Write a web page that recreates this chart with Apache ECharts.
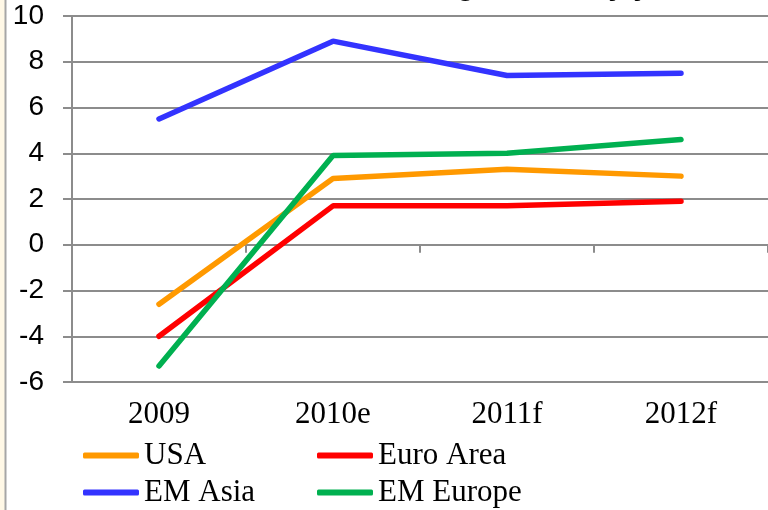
<!DOCTYPE html>
<html>
<head>
<meta charset="utf-8">
<script src="https://cdn.jsdelivr.net/npm/echarts@6/dist/echarts.min.js"></script>
<style>
  html, body { margin: 0; padding: 0; background: #fff; }
  #chart { width: 768px; height: 510px; }
</style>
</head>
<body>
<div id="chart"></div>
<script>
// data
const categories = ['2009', '2010e', '2011f', '2012f'];
const usa = [-2.6, 2.9, 3.3, 3.0];
const euroArea = [-4.0, 1.7, 1.7, 1.9];
const emAsia = [5.5, 8.9, 7.4, 7.5];
const emEurope = [-5.3, 3.9, 4.0, 4.6];
const yTicks = { min: -6, max: 10, step: 2 };

const gridGray = '#8c8c8c';
const serif = '"Liberation Serif", "Times New Roman", serif';
const sans = '"Liberation Sans", Arial, sans-serif';

const chart = echarts.init(document.getElementById('chart'));

function line(name, data, color) {
  return {
    name: name,
    type: 'line',
    data: data,
    symbol: 'none',
    lineStyle: { color: color, width: 5.5, cap: 'round' },
    itemStyle: { color: color }
  };
}

// one legend per entry so the 2x2 layout lines up like the original
function legendAt(name, left, top) {
  return {
    data: [name],
    left: left,
    top: top,
    padding: 0,
    itemWidth: 56,
    itemHeight: 6,
    icon: 'roundRect',
    textStyle: { fontFamily: serif, fontSize: 31, color: '#000' }
  };
}

chart.setOption({
  animation: false,
  backgroundColor: '#fff',
  grid: { left: 72, right: -4, top: 16, bottom: 128 },
  xAxis: [
    {
      type: 'category',
      data: categories,
      position: 'bottom',
      axisLine: { show: false, onZero: false },
      axisTick: { show: false },
      splitLine: { show: false },
      axisLabel: { fontFamily: serif, fontSize: 31, color: '#000', margin: 17 }
    },
    {
      type: 'category',
      data: categories,
      position: 'bottom',
      axisLine: { show: true, onZero: true, lineStyle: { color: gridGray, width: 2 } },
      axisTick: { show: true, length: 8, lineStyle: { color: gridGray, width: 2 } },
      axisLabel: { show: false },
      splitLine: { show: false }
    }
  ],
  yAxis: {
    type: 'value',
    min: yTicks.min,
    max: yTicks.max,
    interval: yTicks.step,
    axisLine: { show: true, lineStyle: { color: gridGray, width: 2 } },
    axisTick: { show: true, length: 9, lineStyle: { color: gridGray, width: 2 } },
    splitLine: { show: true, lineStyle: { color: gridGray, width: 2 } },
    axisLabel: { fontFamily: sans, fontSize: 28, color: '#000', margin: 28 }
  },
  legend: [
    legendAt('USA', 83, 440),
    legendAt('Euro Area', 317, 440),
    legendAt('EM Asia', 83, 477),
    legendAt('EM Europe', 317, 477)
  ],
  graphic: [
    { type: 'rect', shape: { x: 0, y: 0, width: 5, height: 510 }, style: { fill: '#fff8e6' } },
    { type: 'line', shape: { x1: 5.5, y1: 0, x2: 5.5, y2: 510 }, style: { stroke: '#a6a6a6', lineWidth: 2 } },
    {
      // title sits above the crop, only its descenders show
      type: 'text', x: 650, y: -28,
      style: {
        text: 'GDP growth, % y/y', fill: '#000', align: 'right', verticalAlign: 'top',
        font: 'bold 30px "Liberation Sans", Arial, sans-serif'
      }
    }
  ],
  series: [
    line('USA', usa, '#ff9900'),
    line('Euro Area', euroArea, '#ff0000'),
    line('EM Asia', emAsia, '#3333ff'),
    line('EM Europe', emEurope, '#00b050')
  ]
});
</script>
</body>
</html>
